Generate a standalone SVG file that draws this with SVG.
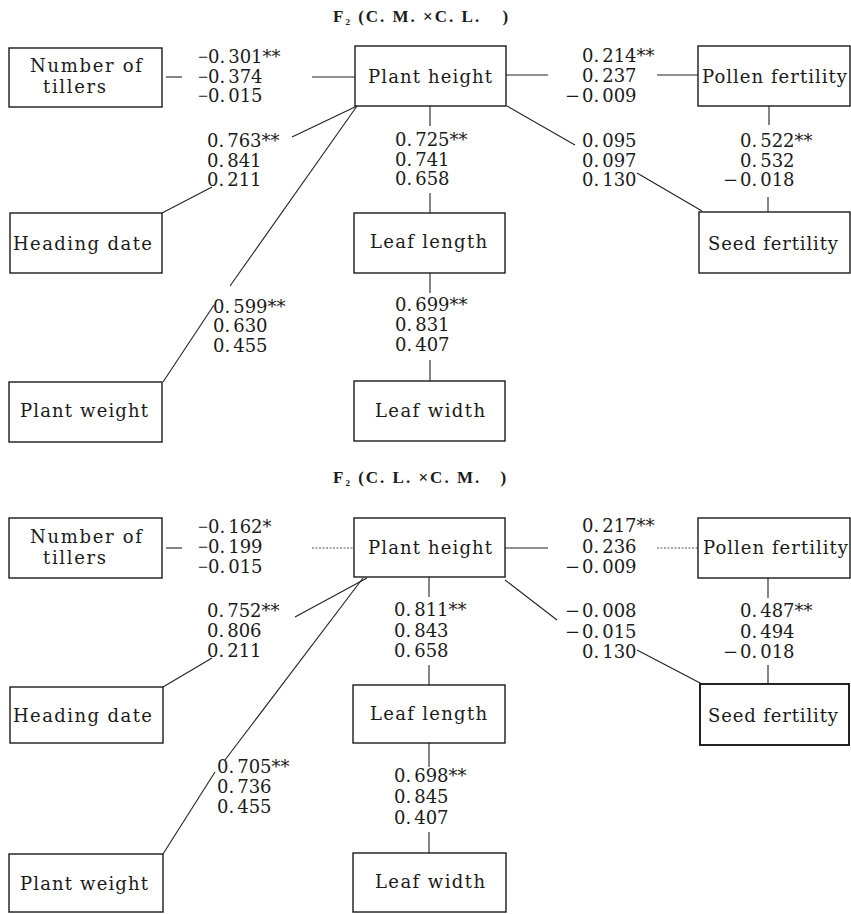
<svg xmlns="http://www.w3.org/2000/svg" width="851" height="914" viewBox="0 0 851 914">
<style>
.box{fill:#fff;stroke:#1a1a1a;stroke-width:1.4}
.lbl{font-family:"DejaVu Serif","Liberation Serif",serif;font-size:18px;fill:#1a1a1a}
.n{font-family:"DejaVu Serif","Liberation Serif",serif;font-size:18px;fill:#1a1a1a}
.m{font-family:"Liberation Serif",serif}
.ttl{font-family:"Liberation Serif",serif;font-size:17px;font-weight:bold;letter-spacing:2px;fill:#1a1a1a}
.sub{font-size:9px}
.c line{stroke:#222;stroke-width:1.1;fill:none}
.c line.dot{stroke-dasharray:2 1.5;stroke:#555}
</style>
<rect width="851" height="914" fill="#fff"/>

<text class="ttl" y="22" x="333">F<tspan class="sub" dy="3">2</tspan><tspan dy="-3"> (C. M. ×C. L. </tspan><tspan dx="15">)</tspan></text>
<text class="ttl" y="483" x="333">F<tspan class="sub" dy="3">2</tspan><tspan dy="-3"> (C. L. ×C. M. </tspan><tspan dx="13">)</tspan></text>

<g id="connectors" class="c">
<line x1="166" y1="77" x2="182" y2="77"/>
<line x1="312" y1="77" x2="355" y2="77"/>
<line x1="506" y1="75" x2="548" y2="75"/>
<line x1="657" y1="75" x2="698" y2="75"/>
<line x1="430" y1="106" x2="430" y2="126"/>
<line x1="430" y1="193" x2="430" y2="213"/>
<line x1="430" y1="273" x2="430" y2="293"/>
<line x1="430" y1="360" x2="430" y2="381"/>
<line x1="769" y1="106" x2="769" y2="125"/>
<line x1="768" y1="197" x2="768" y2="212"/>
<line x1="357" y1="106" x2="292" y2="137"/>
<line x1="212" y1="187" x2="162" y2="213"/>
<line x1="357" y1="106" x2="230" y2="286"/>
<line x1="214" y1="305" x2="163" y2="382"/>
<line x1="507" y1="106" x2="575" y2="145"/>
<line x1="637" y1="173" x2="702" y2="211"/>

<line x1="166" y1="548" x2="182" y2="548"/>
<line class="dot" x1="312" y1="548" x2="354" y2="548"/>
<line x1="505" y1="548" x2="548" y2="548"/>
<line class="dot" x1="657" y1="548" x2="698" y2="548"/>
<line x1="429" y1="577" x2="429" y2="597"/>
<line x1="429" y1="665" x2="429" y2="685"/>
<line x1="429" y1="743" x2="429" y2="767"/>
<line x1="429" y1="832" x2="429" y2="853"/>
<line x1="768" y1="578" x2="768" y2="598"/>
<line x1="768" y1="665" x2="768" y2="684"/>
<line x1="367" y1="578" x2="295" y2="617"/>
<line x1="212" y1="658" x2="163" y2="687"/>
<line x1="363" y1="578" x2="225" y2="760"/>
<line x1="215" y1="772" x2="163" y2="854"/>
<line x1="505" y1="580" x2="557" y2="620"/>
<line x1="637" y1="650" x2="702" y2="684"/>
</g>

<g id="edge-labels">
<!-- top -->
<text class="n" y="63"><tspan class="m" x="198">−</tspan><tspan x="208">0.</tspan><tspan dx="3">301**</tspan></text>
<text class="n" y="83"><tspan class="m" x="198">−</tspan><tspan x="208">0.</tspan><tspan dx="3">374</tspan></text>
<text class="n" y="102"><tspan class="m" x="198">−</tspan><tspan x="208">0.</tspan><tspan dx="3">015</tspan></text>

<text class="n" x="207" y="147">0.<tspan dx="3">763**</tspan></text>
<text class="n" x="207" y="167">0.<tspan dx="3">841</tspan></text>
<text class="n" x="207" y="186">0.<tspan dx="3">211</tspan></text>

<text class="n" x="213" y="313">0.<tspan dx="3">599**</tspan></text>
<text class="n" x="213" y="332">0.<tspan dx="3">630</tspan></text>
<text class="n" x="213" y="352">0.<tspan dx="3">455</tspan></text>

<text class="n" x="395" y="146">0.<tspan dx="3">725**</tspan></text>
<text class="n" x="395" y="166">0.<tspan dx="3">741</tspan></text>
<text class="n" x="395" y="185">0.<tspan dx="3">658</tspan></text>

<text class="n" x="395" y="311">0.<tspan dx="3">699**</tspan></text>
<text class="n" x="395" y="331">0.<tspan dx="3">831</tspan></text>
<text class="n" x="395" y="351">0.<tspan dx="3">407</tspan></text>

<text class="n" x="582" y="62">0.<tspan dx="3">214**</tspan></text>
<text class="n" x="582" y="82">0.<tspan dx="3">237</tspan></text>
<text class="n" y="102"><tspan x="565">−</tspan><tspan x="582">0.</tspan><tspan dx="3">009</tspan></text>

<text class="n" x="582" y="147">0.<tspan dx="3">095</tspan></text>
<text class="n" x="582" y="167">0.<tspan dx="3">097</tspan></text>
<text class="n" x="582" y="186">0.<tspan dx="3">130</tspan></text>

<text class="n" x="740" y="147">0.<tspan dx="3">522**</tspan></text>
<text class="n" x="740" y="167">0.<tspan dx="3">532</tspan></text>
<text class="n" y="186"><tspan x="723">−</tspan><tspan x="740">0.</tspan><tspan dx="3">018</tspan></text>

<!-- bottom -->
<text class="n" y="533"><tspan class="m" x="198">−</tspan><tspan x="208">0.</tspan><tspan dx="3">162*</tspan></text>
<text class="n" y="553"><tspan class="m" x="198">−</tspan><tspan x="208">0.</tspan><tspan dx="3">199</tspan></text>
<text class="n" y="573"><tspan class="m" x="198">−</tspan><tspan x="208">0.</tspan><tspan dx="3">015</tspan></text>

<text class="n" x="207" y="617">0.<tspan dx="3">752**</tspan></text>
<text class="n" x="207" y="637">0.<tspan dx="3">806</tspan></text>
<text class="n" x="207" y="657">0.<tspan dx="3">211</tspan></text>

<text class="n" x="217" y="773">0.<tspan dx="3">705**</tspan></text>
<text class="n" x="217" y="793">0.<tspan dx="3">736</tspan></text>
<text class="n" x="217" y="813">0.<tspan dx="3">455</tspan></text>

<text class="n" x="394" y="616">0.<tspan dx="3">811**</tspan></text>
<text class="n" x="394" y="637">0.<tspan dx="3">843</tspan></text>
<text class="n" x="394" y="657">0.<tspan dx="3">658</tspan></text>

<text class="n" x="394" y="782">0.<tspan dx="3">698**</tspan></text>
<text class="n" x="394" y="803">0.<tspan dx="3">845</tspan></text>
<text class="n" x="394" y="824">0.<tspan dx="3">407</tspan></text>

<text class="n" x="582" y="532">0.<tspan dx="3">217**</tspan></text>
<text class="n" x="582" y="553">0.<tspan dx="3">236</tspan></text>
<text class="n" y="573"><tspan x="565">−</tspan><tspan x="582">0.</tspan><tspan dx="3">009</tspan></text>

<text class="n" y="617"><tspan x="565">−</tspan><tspan x="582">0.</tspan><tspan dx="3">008</tspan></text>
<text class="n" y="638"><tspan x="565">−</tspan><tspan x="582">0.</tspan><tspan dx="3">015</tspan></text>
<text class="n" x="582" y="658">0.<tspan dx="3">130</tspan></text>

<text class="n" x="740" y="617">0.<tspan dx="3">487**</tspan></text>
<text class="n" x="740" y="638">0.<tspan dx="3">494</tspan></text>
<text class="n" y="658"><tspan x="723">−</tspan><tspan x="740">0.</tspan><tspan dx="3">018</tspan></text>
</g>

<!-- top nodes -->
<g id="tillers-1"><rect class="box" x="9" y="48" width="153" height="59"/><text class="lbl" x="30" y="72" textLength="112">Number of</text><text class="lbl" x="43" y="93" textLength="63">tillers</text></g>
<g id="height-1"><rect class="box" x="355" y="46" width="151" height="60"/><text class="lbl" x="368" y="83" textLength="124">Plant height</text></g>
<g id="pollen-1"><rect class="box" x="698" y="46" width="152" height="60"/><text class="lbl" x="702" y="83" textLength="145">Pollen fertility</text></g>
<g id="heading-1"><rect class="box" x="10" y="213" width="152" height="60"/><text class="lbl" x="13" y="250" textLength="139">Heading date</text></g>
<g id="leaflength-1"><rect class="box" x="354" y="213" width="151" height="60"/><text class="lbl" x="370" y="248" textLength="117">Leaf length</text></g>
<g id="seed-1"><rect class="box" x="699" y="212" width="151" height="61"/><text class="lbl" x="708" y="250" textLength="130">Seed fertility</text></g>
<g id="weight-1"><rect class="box" x="9" y="382" width="153" height="60"/><text class="lbl" x="20" y="417" textLength="128">Plant weight</text></g>
<g id="leafwidth-1"><rect class="box" x="354" y="381" width="151" height="60"/><text class="lbl" x="375" y="417" textLength="110">Leaf width</text></g>

<!-- bottom nodes -->
<g id="tillers-2"><rect class="box" x="9" y="518" width="153" height="60"/><text class="lbl" x="30" y="543" textLength="112">Number of</text><text class="lbl" x="43" y="564" textLength="63">tillers</text></g>
<g id="height-2"><rect class="box" x="354" y="518" width="151" height="59"/><text class="lbl" x="368" y="554" textLength="124">Plant height</text></g>
<g id="pollen-2"><rect class="box" x="698" y="518" width="152" height="60"/><text class="lbl" x="703" y="554" textLength="145">Pollen fertility</text></g>
<g id="heading-2"><rect class="box" x="10" y="687" width="153" height="56"/><text class="lbl" x="13" y="722" textLength="139">Heading date</text></g>
<g id="leaflength-2"><rect class="box" x="353" y="685" width="152" height="58"/><text class="lbl" x="370" y="720" textLength="117">Leaf length</text></g>
<g id="seed-2"><rect class="box" x="700" y="684" width="149" height="61" style="stroke-width:1.9"/><text class="lbl" x="708" y="722" textLength="130">Seed fertility</text></g>
<g id="weight-2"><rect class="box" x="9" y="854" width="154" height="58"/><text class="lbl" x="20" y="890" textLength="128">Plant weight</text></g>
<g id="leafwidth-2"><rect class="box" x="353" y="853" width="153" height="59"/><text class="lbl" x="375" y="888" textLength="110">Leaf width</text></g>
</svg>
